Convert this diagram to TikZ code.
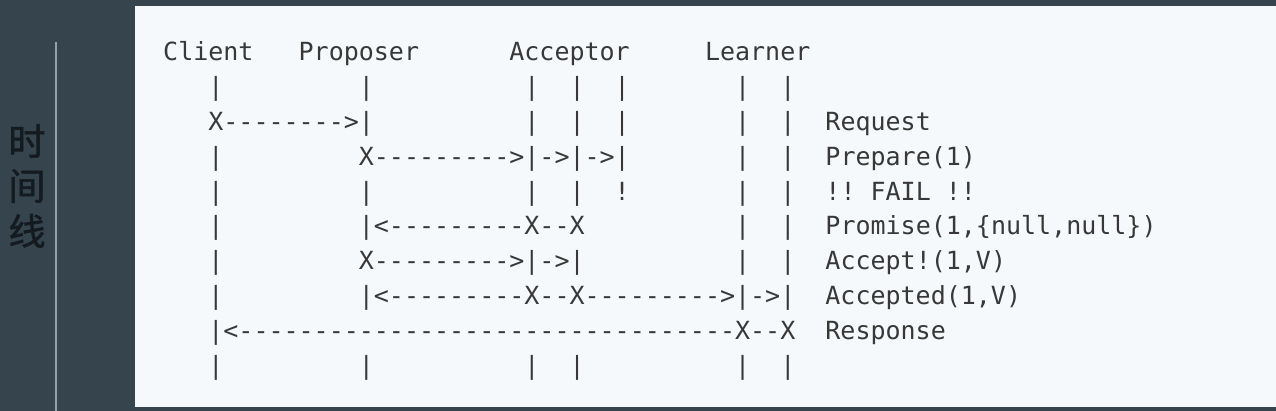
\documentclass[tikz,border=0pt]{standalone}
\usepackage{fontspec}
\setmonofont{DejaVu Sans Mono}
\newfontfamily\cjk{Noto Sans CJK SC}[FakeBold=1.5]
\definecolor{bgdark}{HTML}{36444E}
\definecolor{paper}{HTML}{F6F9FB}
\definecolor{ink}{HTML}{383838}
\definecolor{cjkink}{HTML}{141B20}
\definecolor{tline}{HTML}{96A2AA}
\newcommand\blank[1]{\hspace*{#1\fontdimen2\font}}
\tikzset{
  asciiline/.style={anchor=base west, inner sep=0pt, text=ink,
    font=\ttfamily\frenchspacing\fontsize{25}{30}\selectfont},
  cjkchar/.style={inner sep=0pt, text=cjkink,
    font=\cjk\fontsize{37}{40}\selectfont},
  timeaxis/.style={draw=tline, line width=2pt}
}
\begin{document}
\begin{tikzpicture}[x=1pt,y=-1pt]
\useasboundingbox (0,0) rectangle (1276,411);
\fill[bgdark] (0,0) rectangle (1276,411);
\fill[paper] (135,6.5) rectangle (1276,407);
% time axis on the left
\coordinate (axtop) at (56,42);
\coordinate (axbot) at (56,411);
\draw[timeaxis] (axtop) -- (axbot);
\node[cjkchar] (t1) at (27,141) {时};
\node[cjkchar] (t2) at (27,186) {间};
\node[cjkchar] (t3) at (27,231) {线};
% ASCII sequence diagram
\node[asciiline] (l0) at (163,60.5) {Client\blank{3}Proposer\blank{6}Acceptor\blank{5}Learner};
\node[asciiline] (l1) at (163,95.4) {\blank{3}|\blank{9}|\blank{10}|\blank{2}|\blank{2}|\blank{7}|\blank{2}|};
\node[asciiline] (l2) at (163,130.3) {\blank{3}X-------->|\blank{10}|\blank{2}|\blank{2}|\blank{7}|\blank{2}|\blank{2}Request};
\node[asciiline] (l3) at (163,165.2) {\blank{3}|\blank{9}X--------->|->|->|\blank{7}|\blank{2}|\blank{2}Prepare(1)};
\node[asciiline] (l4) at (163,200.1) {\blank{3}|\blank{9}|\blank{10}|\blank{2}|\blank{2}!\blank{7}|\blank{2}|\blank{2}!!\blank{1}FAIL\blank{1}!!};
\node[asciiline] (l5) at (163,235.0) {\blank{3}|\blank{9}|<---------X--X\blank{10}|\blank{2}|\blank{2}Promise(1,\{null,null\})};
\node[asciiline] (l6) at (163,269.9) {\blank{3}|\blank{9}X--------->|->|\blank{10}|\blank{2}|\blank{2}Accept!(1,V)};
\node[asciiline] (l7) at (163,304.8) {\blank{3}|\blank{9}|<---------X--X--------->|->|\blank{2}Accepted(1,V)};
\node[asciiline] (l8) at (163,339.7) {\blank{3}|<---------------------------------X--X\blank{2}Response};
\node[asciiline] (l9) at (163,374.6) {\blank{3}|\blank{9}|\blank{10}|\blank{2}|\blank{10}|\blank{2}|};
\end{tikzpicture}
\end{document}
